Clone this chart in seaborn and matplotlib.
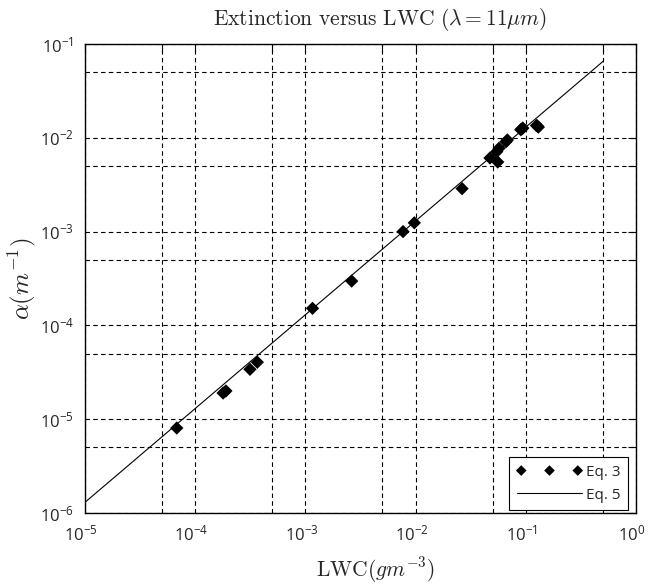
import numpy as np
import pandas as pd
import matplotlib
matplotlib.use("Agg")
import matplotlib.pyplot as plt
import matplotlib.transforms as mtransforms
import seaborn as sns
from matplotlib.ticker import LogLocator, NullFormatter

# Data
lwc_eq3 = [6.8e-5, 1.79e-4, 1.9e-4, 3.14e-4, 3.66e-4, 1.16e-3, 2.63e-3,
           7.69e-3, 9.73e-3, 2.64e-2, 4.73e-2, 5.56e-2, 5.45e-2, 5.71e-2,
           6.61e-2, 6.8e-2, 9.0e-2, 9.18e-2, 9.4e-2, 0.125, 0.127, 0.13]
alpha_eq3 = [8.05e-6, 1.9e-5, 2.0e-5, 3.4e-5, 4.05e-5, 1.52e-4, 2.97e-4,
             1.0e-3, 1.24e-3, 2.87e-3, 6.09e-3, 5.52e-3, 7.11e-3, 7.73e-3,
             9.08e-3, 9.48e-3, 1.22e-2, 1.24e-2, 1.27e-2, 1.35e-2, 1.34e-2, 1.3e-2]
lwc_eq5 = [1e-5, 0.5]
alpha_eq5 = [1.3e-6, 6.5e-2]

title = r"$\mathrm{Extinction\ versus\ LWC}\ (\lambda = 11\mu m)$"
xlabel = r"$\mathrm{LWC}(gm^{-3})$"
ylabel = r"$\alpha(m^{-1})$"

sns.set_style("white")
plt.rcParams["font.family"] = ["Open Sans", "DejaVu Sans"]
plt.rcParams["mathtext.fontset"] = "dejavusans"

df3 = pd.DataFrame({"lwc": lwc_eq3, "alpha": alpha_eq3})
df5 = pd.DataFrame({"lwc": lwc_eq5, "alpha": alpha_eq5})

fig = plt.figure(figsize=(6.48, 5.85), dpi=100)
ax = fig.add_axes([0.1312, 0.1231, 0.8503, 0.8017])

sns.scatterplot(data=df3, x="lwc", y="alpha", marker="D", s=46,
                color="black", edgecolor="none", ax=ax, label="Eq. 3",
                legend=False, zorder=3)
sns.lineplot(data=df5, x="lwc", y="alpha", color="black", lw=0.8, ax=ax,
             label="Eq. 5", legend=False, zorder=2)

ax.set_xscale("log")
ax.set_yscale("log")
ax.set_xlim(1e-5, 1)
ax.set_ylim(1e-6, 1e-1)

for axis in (ax.xaxis, ax.yaxis):
    axis.set_major_locator(LogLocator(base=10, numticks=20))
    axis.set_minor_locator(LogLocator(base=10, subs=[5.0], numticks=20))
    axis.set_minor_formatter(NullFormatter())

ax.grid(True, which="both", color="black", linestyle=(0, (4, 3)), lw=0.8)
ax.tick_params(which="both", direction="in", top=True, right=True,
               color="black", width=0.8)
ax.tick_params(which="major", length=6, labelsize=12, pad=8)
ax.tick_params(which="minor", length=6)
for s in ax.spines.values():
    s.set_color("black")
    s.set_linewidth(1.0)

fig.canvas.draw()
offset = mtransforms.ScaledTranslation(-4 / 100, 0, fig.dpi_scale_trans)
for lab in ax.get_xticklabels():
    lab.set_transform(lab.get_transform() + offset)

ax.set_title(title, fontsize=15.5, math_fontfamily="cm", pad=14, x=0.535)
ax.set_xlabel(xlabel, fontsize=15.5, math_fontfamily="cm", labelpad=8, x=0.527)
ax.set_ylabel(ylabel, fontsize=18, math_fontfamily="cm", labelpad=1)

handles, labels = ax.get_legend_handles_labels()
leg = ax.legend(handles, labels, loc="lower right",
                bbox_to_anchor=(0.986, 0.006), scatterpoints=3,
                scatteryoffsets=[0.5], markerscale=0.8,
                handlelength=4.3, handletextpad=0.25, fontsize=11,
                fancybox=False, framealpha=1, edgecolor="black",
                borderaxespad=0.0, labelspacing=0.5, borderpad=0.5)
leg.get_frame().set_linewidth(0.8)

fig.savefig("out.png", dpi=100)
